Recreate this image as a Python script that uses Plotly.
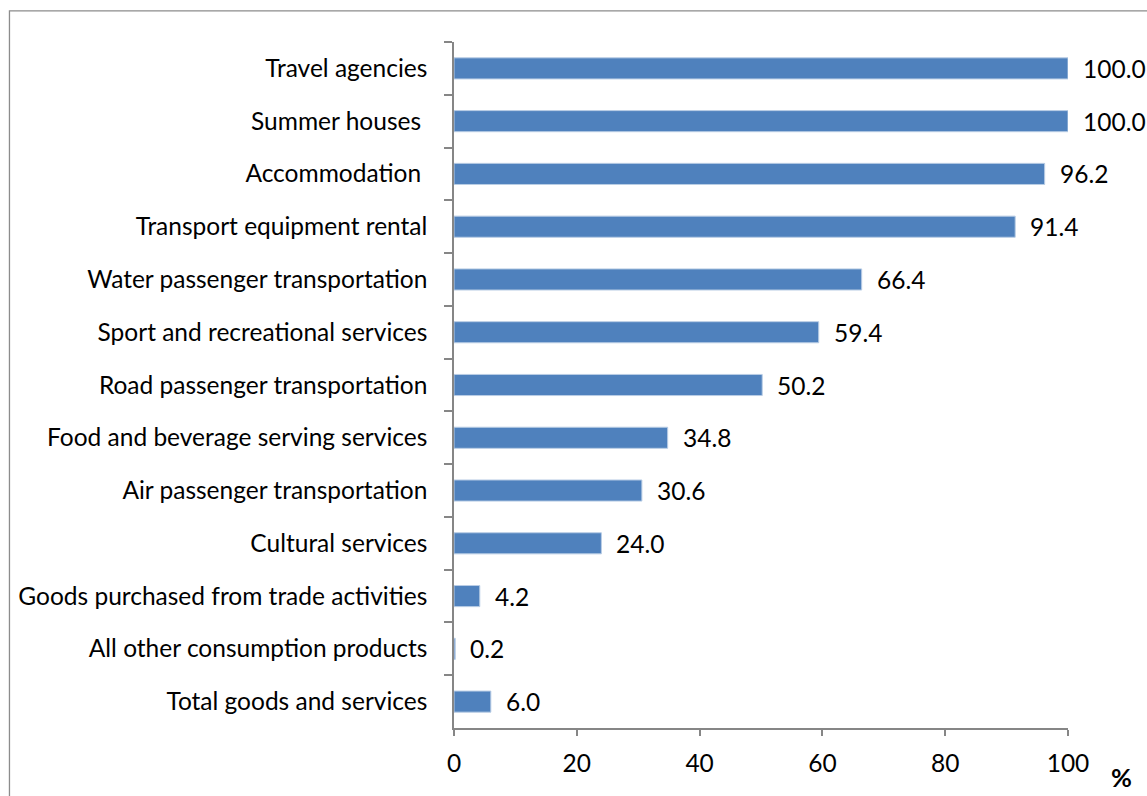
import plotly.graph_objects as go

categories = [
    "Travel agencies",
    "Summer houses\u00a0",
    "Accommodation\u00a0",
    "Transport equipment rental",
    "Water passenger transportation",
    "Sport and recreational services",
    "Road passenger transportation",
    "Food and beverage serving services",
    "Air passenger transportation",
    "Cultural services",
    "Goods purchased from trade activities",
    "All other consumption products",
    "Total goods and services",
]
shares = [100.0, 100.0, 96.2, 91.4, 66.4, 59.4, 50.2, 34.8, 30.6, 24.0, 4.2, 0.2, 6.0]
x_ticks = [0, 20, 40, 60, 80, 100]

FONT = "Lato, Carlito, Calibri, sans-serif"
FS = 24.5
AXIS_GREY = "#868686"

fig = go.Figure(
    go.Bar(
        x=shares,
        y=categories,
        orientation="h",
        marker=dict(color="#4F81BD", line=dict(color="#B9CDE5", width=1)),
        hoverinfo="skip",
    )
)

# value labels just to the right of each bar
for cat, val in zip(categories, shares):
    fig.add_annotation(
        x=val, y=cat, xref="x", yref="y",
        text=f"{val:.1f}", showarrow=False,
        xanchor="left", yanchor="middle", xshift=13,
        font=dict(family=FONT, size=FS, color="black"),
    )

# unit marker beyond the end of the value axis
fig.add_annotation(
    x=1.087, y=-0.072, xref="paper", yref="paper",
    text="<b>%</b>", showarrow=False, xanchor="center", yanchor="middle",
    font=dict(family=FONT, size=FS + 1, color="black"),
)

# chart frame
fig.add_shape(
    type="rect", xref="paper", yref="paper",
    x0=-0.724, x1=1.3, y0=-0.3, y1=1.0455,
    line=dict(color="#8C8C8C", width=1.3), fillcolor="rgba(0,0,0,0)",
    layer="below",
)

fig.update_layout(
    width=1147, height=796,
    margin=dict(l=454, r=79, t=42, b=68),
    paper_bgcolor="white", plot_bgcolor="white",
    bargap=0.6, showlegend=False,
    font=dict(family=FONT, size=FS, color="black"),
    xaxis=dict(
        range=[0, 100], tickvals=x_ticks, ticktext=[str(v) for v in x_ticks],
        showgrid=False, zeroline=False,
        showline=True, linecolor=AXIS_GREY, linewidth=1.5,
        ticks="outside", ticklen=6, tickwidth=1.5, tickcolor=AXIS_GREY,
        ticklabelstandoff=7,
    ),
    yaxis=dict(
        autorange="reversed", type="category",
        showgrid=False, zeroline=False,
        showline=True, linecolor=AXIS_GREY, linewidth=1.5,
        ticks="outside", tickson="boundaries", ticklen=8,
        tickwidth=1.5, tickcolor=AXIS_GREY,
        ticklabelstandoff=20,
    ),
)

fig.write_html("out.html")
